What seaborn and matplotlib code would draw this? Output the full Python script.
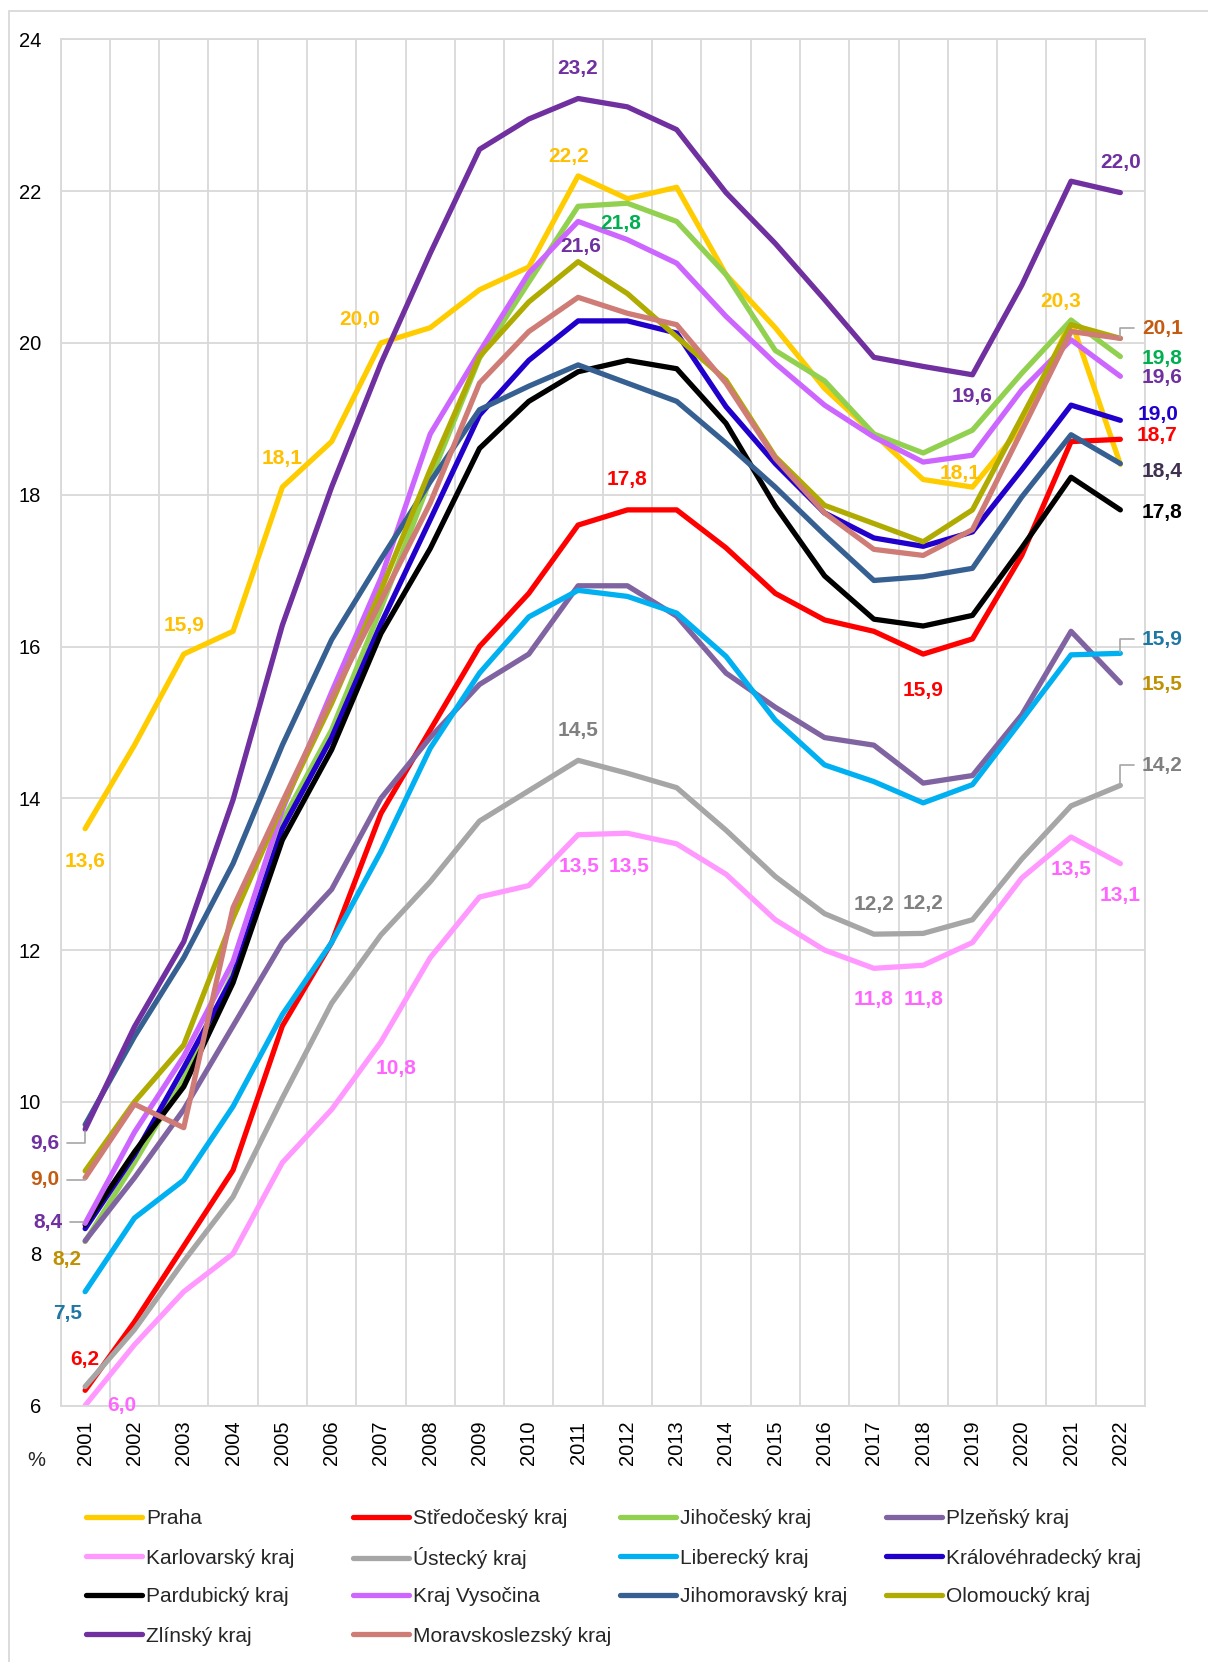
import numpy as np
import pandas as pd
import seaborn as sns
import matplotlib
matplotlib.use('Agg')
import matplotlib.pyplot as plt
from matplotlib.lines import Line2D
from matplotlib.patches import Rectangle

# ===== Data (podíl v %, 2001-2022) =====
years = list(range(2001, 2023))

regions = ["Praha", "Středočeský kraj", "Jihočeský kraj", "Plzeňský kraj",
           "Karlovarský kraj", "Ústecký kraj", "Liberecký kraj", "Královéhradecký kraj",
           "Pardubický kraj", "Kraj Vysočina", "Jihomoravský kraj", "Olomoucký kraj",
           "Zlínský kraj", "Moravskoslezský kraj"]

praha = [13.6, 14.7, 15.9, 16.2, 18.1, 18.7, 20.0, 20.2, 20.7, 21.0, 22.2,
         21.9, 22.05, 20.9, 20.2, 19.4, 18.8, 18.2, 18.1, 18.9, 20.3, 18.4]
stredocesky = [6.2, 7.1, 8.1, 9.1, 11.0, 12.1, 13.8, 14.9, 16.0, 16.7, 17.6,
               17.8, 17.8, 17.3, 16.7, 16.35, 16.2, 15.9, 16.1, 17.2, 18.7, 18.73]
jihocesky = [8.16, 9.2, 10.3, 11.7, 13.7, 14.9, 16.5, 18.2, 19.8, 20.8, 21.8,
             21.84, 21.6, 20.9, 19.9, 19.5, 18.8, 18.55, 18.85, 19.6, 20.3, 19.82]
plzensky = [8.17, 9.0, 9.9, 11.0, 12.1, 12.8, 14.0, 14.8, 15.5, 15.9, 16.8,
            16.8, 16.4, 15.65, 15.2, 14.8, 14.7, 14.2, 14.3, 15.1, 16.2, 15.52]
karlovarsky = [6.0, 6.8, 7.5, 8.0, 9.2, 9.9, 10.79, 11.9, 12.7, 12.85, 13.52,
               13.54, 13.4, 13.0, 12.4, 12.0, 11.76, 11.8, 12.1, 12.95, 13.49, 13.14]
ustecky = [6.25, 7.0, 7.9, 8.75, 10.05, 11.3, 12.2, 12.9, 13.7, 14.1, 14.5,
           14.33, 14.14, 13.58, 12.97, 12.48, 12.21, 12.22, 12.4, 13.2, 13.9, 14.17]
liberecky = [7.5, 8.47, 8.97, 9.94, 11.15, 12.1, 13.3, 14.66, 15.65, 16.39, 16.74,
             16.66, 16.44, 15.87, 15.03, 14.44, 14.22, 13.94, 14.18, 15.03, 15.89, 15.91]
kralovehradecky = [8.33, 9.3, 10.45, 11.65, 13.6, 14.8, 16.3, 17.67, 19.05, 19.77, 20.29,
                   20.29, 20.13, 19.16, 18.41, 17.76, 17.43, 17.32, 17.51, 18.33, 19.18, 18.98]
pardubicky = [8.38, 9.34, 10.2, 11.57, 13.45, 14.64, 16.17, 17.29, 18.61, 19.23, 19.62,
              19.77, 19.66, 18.94, 17.85, 16.93, 16.36, 16.27, 16.41, 17.3, 18.23, 17.8]
vysocina = [8.4, 9.6, 10.6, 11.85, 13.85, 15.4, 16.9, 18.8, 19.88, 20.92, 21.6,
            21.36, 21.05, 20.35, 19.73, 19.18, 18.76, 18.43, 18.52, 19.38, 20.04, 19.56]
jihomoravsky = [9.7, 10.86, 11.9, 13.14, 14.7, 16.09, 17.15, 18.17, 19.12, 19.43, 19.71,
                19.47, 19.23, 18.68, 18.1, 17.47, 16.87, 16.92, 17.03, 17.97, 18.79, 18.41]
olomoucky = [9.09, 10.0, 10.75, 12.42, 13.9, 15.25, 16.74, 18.33, 19.82, 20.54, 21.07,
             20.65, 20.08, 19.51, 18.5, 17.86, 17.62, 17.38, 17.8, 19.02, 20.24, 20.06]
zlinsky = [9.64, 10.99, 12.11, 13.98, 16.28, 18.1, 19.73, 21.18, 22.55, 22.95, 23.22,
           23.11, 22.81, 21.98, 21.31, 20.57, 19.81, 19.69, 19.58, 20.76, 22.13, 21.98]
moravskoslezsky = [9.0, 9.97, 9.66, 12.56, 13.95, 15.32, 16.6, 17.89, 19.47, 20.15, 20.6,
                   20.39, 20.24, 19.47, 18.48, 17.76, 17.28, 17.2, 17.54, 18.84, 20.15, 20.06]

series = [praha, stredocesky, jihocesky, plzensky, karlovarsky, ustecky, liberecky,
          kralovehradecky, pardubicky, vysocina, jihomoravsky, olomoucky, zlinsky,
          moravskoslezsky]
values = dict(zip(regions, series))

line_colors = ["#FFCC00", "#FF0000", "#92D050", "#8064A2", "#FF99FF", "#A6A6A6", "#00B0F0",
               "#2200CC", "#000000", "#CC66FF", "#376092", "#AFAB00", "#7030A0", "#CF7B76"]
palette = dict(zip(regions, line_colors))

# ===== Popisky hodnot: (kraj, rok, posun x px, posun y px dolů, barva, odkazová čára) =====
labels = [
    ("Praha", 2001, 0, 33, "#FFC000", False),
    ("Praha", 2003, 0, -29, "#FFC000", False),
    ("Praha", 2005, 0, -29, "#FFC000", False),
    ("Praha", 2007, -21, -23, "#FFC000", False),
    ("Praha", 2011, -9, -19, "#FFC000", False),
    ("Praha", 2019, -12, -14, "#FFC000", False),
    ("Praha", 2021, -10, -19, "#FFC000", False),
    ("Středočeský kraj", 2001, 0, -31, "#FF0000", False),
    ("Středočeský kraj", 2012, 0, -30, "#FF0000", False),
    ("Středočeský kraj", 2018, 0, 36, "#FF0000", False),
    ("Středočeský kraj", 2022, 37, -4, "#FF0000", False),
    ("Jihočeský kraj", 2012, -7, 20, "#00B050", False),
    ("Jihočeský kraj", 2022, 42, 2, "#00B050", False),
    ("Plzeňský kraj", 2001, -18, 19, "#BF9000", False),
    ("Plzeňský kraj", 2022, 42, 2, "#BF9000", False),
    ("Karlovarský kraj", 2001, 37, 0, "#FF66FF", False),
    ("Karlovarský kraj", 2007, 15, 27, "#FF66FF", False),
    ("Karlovarský kraj", 2011, 1, 32, "#FF66FF", False),
    ("Karlovarský kraj", 2012, 2, 33, "#FF66FF", False),
    ("Karlovarský kraj", 2017, 0, 31, "#FF66FF", False),
    ("Karlovarský kraj", 2018, 0, 34, "#FF66FF", False),
    ("Karlovarský kraj", 2021, 0, 32, "#FF66FF", False),
    ("Karlovarský kraj", 2022, 0, 32, "#FF66FF", False),
    ("Ústecký kraj", 2011, 0, -30, "#808080", False),
    ("Ústecký kraj", 2017, 0, -30, "#808080", False),
    ("Ústecký kraj", 2018, 0, -30, "#808080", False),
    ("Ústecký kraj", 2022, 42, -20, "#808080", True),
    ("Liberecký kraj", 2001, -18, 22, "#1E78A3", False),
    ("Liberecký kraj", 2022, 42, -14, "#1E78A3", True),
    ("Královéhradecký kraj", 2022, 38, -6, "#2200CC", False),
    ("Pardubický kraj", 2022, 42, 3, "#000000", False),
    ("Kraj Vysočina", 2001, -37, -1, "#7030A0", True),
    ("Kraj Vysočina", 2011, 3, 25, "#7030A0", False),
    ("Kraj Vysočina", 2022, 42, 1, "#7030A0", False),
    ("Jihomoravský kraj", 2022, 42, 8, "#403151", False),
    ("Zlínský kraj", 2001, -40, 14, "#7030A0", True),
    ("Zlínský kraj", 2011, 0, -30, "#7030A0", False),
    ("Zlínský kraj", 2019, 0, 22, "#7030A0", False),
    ("Zlínský kraj", 2022, 0, -30, "#7030A0", False),
    ("Moravskoslezský kraj", 2001, -40, 2, "#C55A11", True),
    ("Moravskoslezský kraj", 2022, 42, -10, "#C55A11", True),
]

# ===== Long-form table =====
df = pd.DataFrame({
    'rok': years * len(regions),
    'kraj': np.repeat(regions, len(years)),
    'podil': np.concatenate(series),
})

sns.set_theme(style='white')
plt.rcParams['font.family'] = ['Liberation Sans', 'DejaVu Sans']

W, H = 1208, 1662
fig = plt.figure(figsize=(W / 100, H / 100), dpi=100)
ax = fig.add_axes([60.5 / W, 1 - 1405.5 / H, (1145 - 60.5) / W, (1405.5 - 39.3) / H])

sns.lineplot(data=df, x='rok', y='podil', hue='kraj', hue_order=regions,
             palette=palette, linewidth=3.8, errorbar=None, legend=False,
             sort=False, ax=ax)

# ===== Axes =====
ax.set_xlim(2000.5, 2022.5)
ax.set_ylim(6, 24)
ax.set_xticks(years)
ax.set_xticklabels([str(y) for y in years], rotation=90)
ax.set_xticks(np.arange(2000.5, 2023, 1), minor=True)
ax.set_yticks(range(6, 25, 2))
ax.grid(True, which='minor', axis='x', color='#D9D9D9', lw=1.3)
ax.grid(True, which='major', axis='y', color='#D9D9D9', lw=1.3)
ax.set_axisbelow(True)
ax.tick_params(axis='x', which='both', length=0, pad=11, labelsize=14.5, colors='black')
ax.tick_params(axis='y', length=0, pad=14, labelsize=14.5, colors='black')
for s in ax.spines.values():
    s.set_color('#D9D9D9')
    s.set_linewidth(1.3)
ax.set_xlabel('')
ax.set_ylabel('')
fig.text(36 / W, 1 - 1460 / H, '%', ha='center', va='center', fontsize=14.5)

# ===== Popisky =====
for kraj, rok, dx, dy, col, leader in labels:
    val = values[kraj][years.index(rok)]
    txt = f"{val:.1f}".replace('.', ',')
    kw = dict(textcoords='offset pixels', ha='center', va='center', fontsize=15,
              fontweight='bold', color=col, annotation_clip=False, zorder=5)
    if leader:
        kw['arrowprops'] = dict(arrowstyle='-', color='#A6A6A6', lw=1.2, shrinkA=3, shrinkB=1,
                                connectionstyle='angle,angleA=0,angleB=90,rad=0',
                                relpos=(0 if dx > 0 else 1, 0.5))
    ax.annotate(txt, xy=(rok, val), xytext=(dx, -dy), **kw)

# ===== Legend: one entry per slot so rows line up like Excel's grid =====
col_x = [86, 353, 620, 886]
row_y = [1519, 1558, 1597, 1636]
for i, kraj in enumerate(regions):
    r, c = divmod(i, 4)
    h = Line2D([], [], color=line_colors[i], lw=3.8, solid_capstyle='round')
    fig.legend([h], [kraj], loc='center left',
               bbox_to_anchor=(col_x[c] / W, 1 - row_y[r] / H), frameon=False,
               fontsize=15, handlelength=2.7, handletextpad=0.2,
               borderpad=0, borderaxespad=0)

# outer chart border
fig.patches.append(Rectangle((9 / W, -0.01), 1.0, 1 - 11 / H + 0.01, transform=fig.transFigure,
                             fill=False, edgecolor='#D9D9D9', lw=1.3))

fig.savefig('out.png', dpi=100)
